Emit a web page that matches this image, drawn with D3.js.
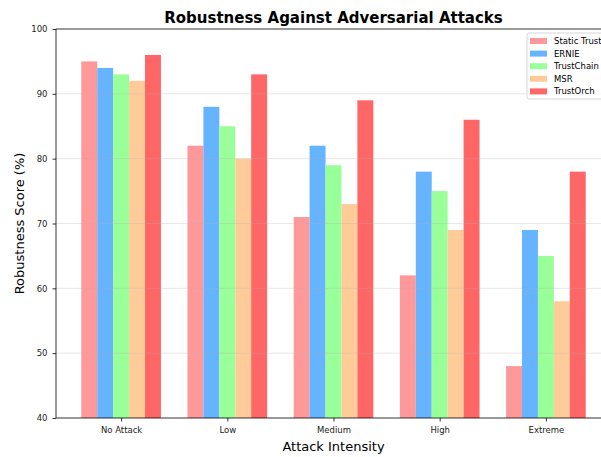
<!DOCTYPE html>
<html>
<head>
<meta charset="utf-8">
<script src="https://cdn.jsdelivr.net/npm/d3@7"></script>
<style>
  html, body { margin: 0; padding: 0; background: #fff; }
  svg { display: block; font-family: "DejaVu Sans", sans-serif; }
</style>
</head>
<body>
<svg id="chart" width="601" height="457"></svg>
<script>
// Attack intensity levels along the x axis
const categories = ["No Attack", "Low", "Medium", "High", "Extreme"];

// Robustness score (%) per system, one value per intensity level
const seriesNames = ["Static Trust", "ERNIE", "TrustChain", "MSR", "TrustOrch"];
const staticTrust = [95, 82, 71, 62, 48];
const ernie       = [94, 88, 82, 78, 69];
const trustChain  = [93, 85, 79, 75, 65];
const msr         = [92, 80, 73, 69, 58];
const trustOrch   = [96, 93, 89, 86, 78];
const seriesColors = ["#ff9999", "#66b3ff", "#99ff99", "#ffcc99", "#ff6666"];

const yTicks = [40, 50, 60, 70, 80, 90, 100];

const seriesValues = [staticTrust, ernie, trustChain, msr, trustOrch];

const svg = d3.select("#chart");
const margin = { left: 56, top: 29, right: 611, bottom: 418 };

// Group centres sit on integer positions; axis extends 0.613 units past the ends
const x = d3.scaleLinear().domain([-0.613, 4.613]).range([margin.left, margin.right]);
const y = d3.scaleLinear().domain([40, 100]).range([margin.bottom, margin.top]);
const barW = 0.15;

// Bars
seriesValues.forEach((vals, s) => {
  svg.append("g").selectAll("rect")
    .data(vals)
    .join("rect")
    .attr("x", (d, i) => x(i + (s - 2.5) * barW))
    .attr("width", x(barW) - x(0))
    .attr("y", d => y(d))
    .attr("height", d => y(40) - y(d))
    .attr("fill", seriesColors[s]);
});

// Horizontal grid lines, drawn over the bars
svg.append("g").selectAll("line")
  .data(yTicks.slice(1, -1))
  .join("line")
  .attr("x1", margin.left).attr("x2", margin.right)
  .attr("y1", d => y(d)).attr("y2", d => y(d))
  .attr("stroke", "#b0b0b0").attr("stroke-opacity", 0.3).attr("stroke-width", 1);

// Axes
const xAxis = d3.axisBottom(x)
  .tickValues(d3.range(categories.length))
  .tickFormat(i => categories[i])
  .tickSize(3.5).tickPadding(5);
const gx = svg.append("g").attr("transform", `translate(0,${margin.bottom})`).call(xAxis);

const yAxis = d3.axisLeft(y).tickValues(yTicks).tickSize(3.5).tickPadding(5);
const gy = svg.append("g").attr("transform", `translate(${margin.left},0)`).call(yAxis);

[gx, gy].forEach(g => {
  g.select(".domain").remove();
  g.selectAll(".tick line").attr("stroke", "#000").attr("stroke-width", 0.8);
  g.selectAll(".tick text").attr("fill", "#222").attr("font-size", 8.5)
    .attr("font-family", "DejaVu Sans, sans-serif");
});

// Spines (left, bottom, top)
const spines = svg.append("g").attr("stroke", "#000").attr("stroke-width", 0.8);
spines.append("line").attr("x1", margin.left).attr("x2", margin.left)
  .attr("y1", margin.top).attr("y2", margin.bottom);
spines.append("line").attr("x1", margin.left).attr("x2", margin.right)
  .attr("y1", margin.bottom).attr("y2", margin.bottom);
spines.append("line").attr("x1", margin.left).attr("x2", margin.right)
  .attr("y1", margin.top).attr("y2", margin.top);

// Title and axis labels
svg.append("text")
  .attr("x", (margin.left + margin.right) / 2).attr("y", 22.5)
  .attr("text-anchor", "middle").attr("font-size", 15).attr("font-weight", "bold")
  .text("Robustness Against Adversarial Attacks");

svg.append("text")
  .attr("x", (margin.left + margin.right) / 2).attr("y", 451)
  .attr("text-anchor", "middle").attr("font-size", 13)
  .text("Attack Intensity");

svg.append("text")
  .attr("transform", `translate(24,${(margin.top + margin.bottom) / 2}) rotate(-90)`)
  .attr("text-anchor", "middle").attr("font-size", 13)
  .text("Robustness Score (%)");

// Legend
const lg = svg.append("g").attr("transform", "translate(527,33)");
lg.append("rect")
  .attr("x", 0).attr("y", 0).attr("width", 90).attr("height", 66).attr("rx", 2)
  .attr("fill", "#fff").attr("fill-opacity", 0.8)
  .attr("stroke", "#cccccc").attr("stroke-width", 0.8);
seriesNames.forEach((name, s) => {
  const row = lg.append("g").attr("transform", `translate(0,${8 + s * 12.6})`);
  row.append("rect").attr("x", 3).attr("y", -3).attr("width", 17).attr("height", 6)
    .attr("fill", seriesColors[s]);
  row.append("text").attr("x", 27).attr("y", 3).attr("font-size", 8.5).text(name);
});
</script>
</body>
</html>
